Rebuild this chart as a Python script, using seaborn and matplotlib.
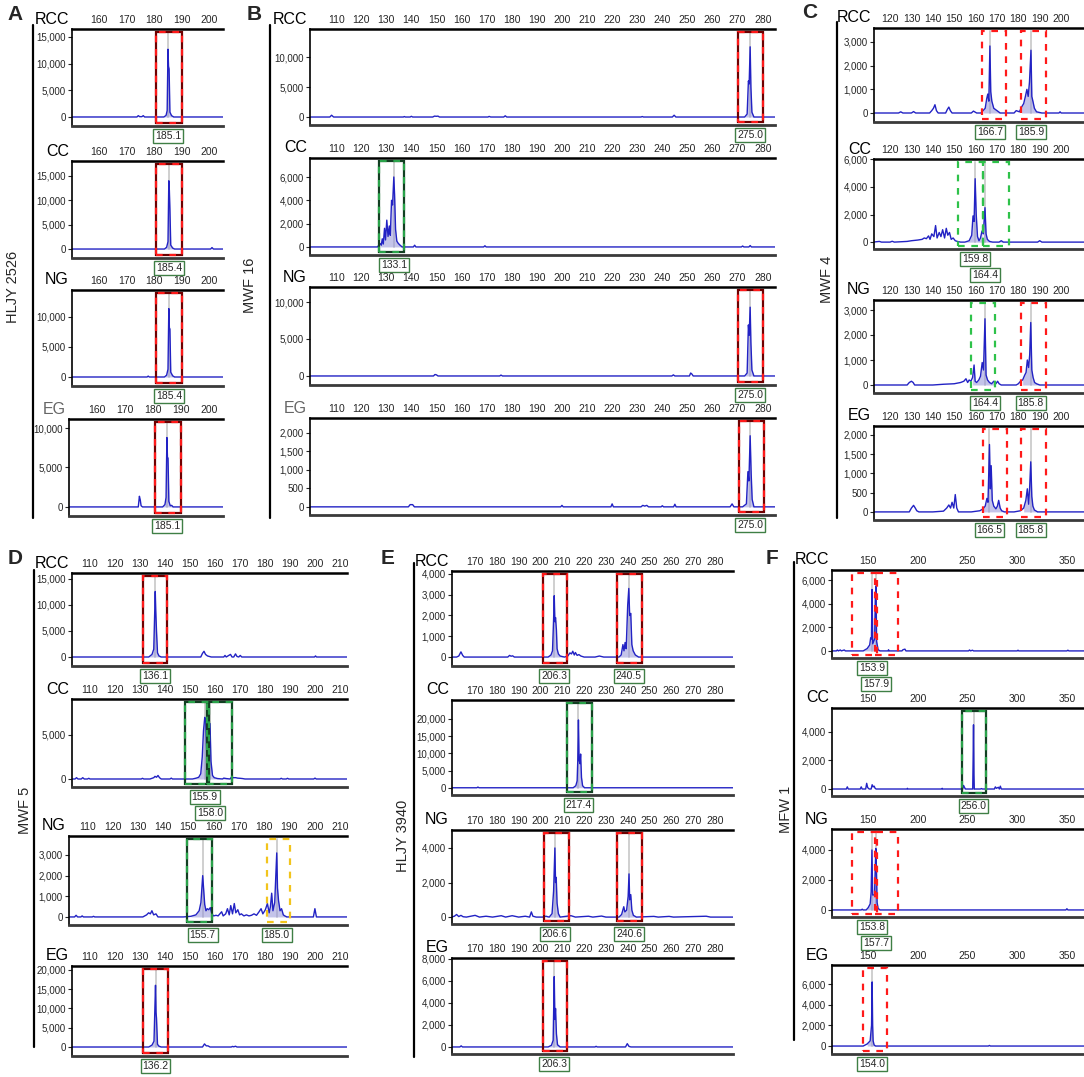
import numpy as np
import pandas as pd
import matplotlib
matplotlib.use('Agg')
import matplotlib.pyplot as plt
import seaborn as sns
from matplotlib.patches import Rectangle
from matplotlib.lines import Line2D
from matplotlib.transforms import Bbox, TransformedBbox

sns.set_style('white')
plt.rcParams['font.family'] = ['Liberation Sans', 'DejaVu Sans']

# ---- traces: (size bp, RFU) vertices ----
a_rcc = [(150, 0), (173.8, 0), (174.3, 250), (174.8, 60), (175.6, 60), (176.1, 250), (176.6, 0), (183.6, 0),
         (184.4, 300), (184.8, 1200), (185.1, 12700), (185.3, 9500), (185.5, 9000), (185.8, 900), (186.4, 250),
         (187.2, 0), (206, 0)]
a_cc = [(150, 0), (183.8, 0), (184.6, 350), (185.1, 1500), (185.4, 14000), (185.6, 12000), (185.8, 8200),
        (186.1, 800), (186.8, 200), (187.5, 0), (200.6, 0), (201.1, 300), (201.6, 0), (206, 0)]
a_ng = [(150, 0), (177.5, 0), (177.9, 150), (178.3, 0), (183.8, 0), (184.6, 300), (185.1, 1300), (185.4, 11400),
        (185.6, 8200), (185.8, 8000), (186.1, 800), (186.8, 200), (187.5, 0), (206, 0)]
a_eg = [(150, 0), (174.9, 0), (175.3, 1350), (175.6, 900), (175.9, 150), (176.4, 0), (183.6, 0), (184.4, 300),
        (184.8, 1200), (185.1, 8800), (185.3, 6300), (185.5, 6200), (185.8, 700), (186.3, 150), (186.8, 200),
        (187.3, 0), (206, 0)]

b_rcc = [(99, 0), (107.5, 0), (108.2, 300), (109, 0), (136.8, 0), (137.2, 80), (137.6, 0), (139.5, 0), (140, 120),
         (140.5, 0), (148.5, 0), (149.2, 150), (150, 120), (150.6, 150), (151.2, 0), (170.5, 0), (171, 100),
         (171.6, 0), (176.8, 0), (177.4, 200), (178, 0), (231.5, 0), (232, 80), (232.5, 0), (244, 0), (244.7, 300),
         (245.4, 0), (272.8, 0), (273.8, 500), (274.3, 6000), (274.6, 5500), (275.0, 11700), (275.3, 5000),
         (275.7, 800), (276.5, 0), (286, 0)]
b_cc = [(99, 0), (126.5, 0), (127.5, 300), (128, 150), (128.4, 700), (128.8, 250), (129.3, 1600), (129.7, 600),
        (130.2, 2300), (130.7, 900), (131.2, 1800), (131.6, 1000), (132.1, 4000), (132.5, 3600), (133.0, 6000),
        (133.3, 4500), (133.7, 1500), (134.2, 500), (134.8, 300), (135.5, 150), (136.3, 0), (140.8, 0),
        (141.3, 150), (141.8, 0), (168.8, 0), (169.3, 100), (169.8, 0), (271.5, 0), (272, 80), (272.5, 0),
        (274.5, 0), (275, 120), (275.5, 0), (286, 0)]
b_ng = [(99, 0), (148.8, 0), (149.4, 200), (150, 150), (150.6, 0), (175.2, 0), (175.7, 120), (176.3, 0),
        (243.8, 0), (244.4, 150), (245, 0), (250.8, 0), (251.3, 400), (251.8, 250), (252.3, 0), (272.8, 0),
        (273.8, 400), (274.3, 6900), (274.6, 5500), (275.0, 9300), (275.3, 4500), (275.7, 800), (276.5, 0),
        (286, 0)]
b_eg = [(99, 0), (138.8, 0), (139.5, 60), (140.5, 60), (141.2, 0), (199.5, 0), (200, 40), (200.5, 0), (219.5, 0),
        (220, 80), (220.5, 0), (231.5, 0), (232.2, 40), (233, 20), (233.8, 40), (234.5, 0), (239.5, 0), (240, 30),
        (240.5, 0), (244.5, 0), (245, 70), (245.5, 0), (267, 0), (267.8, 80), (268.5, 0), (272, 0), (273.5, 80),
        (274.1, 950), (274.5, 700), (275.0, 1920), (275.4, 900), (275.8, 200), (276.5, 0), (286, 0)]

c_rcc = [(112, 0), (124, 0), (125, 50), (126, 0), (130, 0), (131, 60), (132, 0), (138.5, 0), (139.5, 100),
         (140.3, 200), (141, 350), (141.7, 100), (142.5, 0), (146, 0), (146.8, 150), (147.5, 250), (148.2, 100),
         (149, 0), (158, 0), (159, 80), (160.5, 0), (162.5, 0), (163.5, 100), (164.5, 200), (165.2, 600),
         (165.7, 800), (166.2, 500), (166.7, 2830), (167.1, 900), (167.6, 500), (168.5, 200), (170, 100),
         (171.5, 0), (178, 0), (179, 100), (180.5, 50), (181.5, 250), (182.5, 400), (183.3, 700), (184, 1000),
         (184.6, 700), (185.2, 1300), (185.9, 2650), (186.3, 700), (186.8, 500), (187.5, 200), (188.5, 50),
         (191, 0), (199, 0), (199.5, 50), (200, 0), (211, 0)]
c_cc = [(112, 0), (115, 50), (116, 0), (120, 0), (121, 60), (122, 0), (128, 50), (130, 100), (133, 150),
        (135, 200), (136, 300), (137, 250), (138, 450), (138.7, 200), (139.5, 600), (140.5, 400), (141.3, 1200),
        (142, 300), (143, 700), (143.8, 400), (144.6, 900), (145.5, 300), (146.3, 1000), (147, 500), (147.8, 700),
        (148.6, 200), (149.5, 300), (150.5, 100), (151.5, 50), (153, 0), (155, 0), (157, 100), (158.2, 500),
        (158.8, 1900), (159.3, 1500), (159.8, 4600), (160.3, 2000), (160.9, 400), (161.6, 100), (162.3, 300),
        (163, 800), (163.6, 600), (164.4, 2500), (164.9, 600), (165.5, 200), (166.5, 50), (168, 0), (171, 0),
        (172, 100), (173, 0), (189, 0), (190, 100), (191, 0), (211, 0)]
c_ng = [(112, 0), (128, 0), (129, 100), (130, 150), (130.8, 100), (131.5, 0), (140, 0), (145, 30), (150, 50),
        (153, 100), (154.5, 150), (155.5, 250), (156.3, 100), (157, 200), (157.8, 150), (158.6, 300),
        (159.3, 800), (159.8, 150), (160.5, 100), (161.5, 200), (162.3, 350), (163.1, 900), (163.7, 600),
        (164.4, 2650), (164.9, 400), (165.6, 200), (166.5, 100), (167.5, 50), (168.5, 150), (169.5, 50),
        (170.3, 150), (171, 50), (172, 0), (179, 0), (180, 50), (181, 150), (182, 200), (183, 400), (183.6, 500),
        (184.2, 1000), (184.8, 700), (185.3, 1200), (185.8, 2500), (186.3, 600), (186.9, 300), (187.6, 100),
        (188.5, 50), (190, 0), (211, 0)]
c_eg = [(112, 0), (129, 0), (130, 100), (131, 170), (131.8, 100), (132.5, 30), (133.5, 0), (140, 0), (145, 20),
        (146.5, 100), (147.5, 180), (148.3, 100), (149, 250), (149.8, 100), (150.5, 450), (151.2, 100), (152, 0),
        (158, 0), (162, 30), (163.5, 80), (164.5, 150), (165.3, 350), (165.8, 250), (166.5, 1750), (166.9, 600),
        (167.3, 1200), (167.8, 300), (168.5, 150), (169.5, 80), (170.2, 150), (170.8, 300), (171.5, 100),
        (172.2, 30), (173.5, 0), (178, 0), (181, 30), (182.5, 100), (183.5, 300), (184.2, 600), (184.8, 200),
        (185.3, 650), (185.8, 1300), (186.3, 400), (186.8, 150), (187.5, 50), (189, 0), (211, 0)]

d_rcc = [(102, 0), (133.5, 0), (134.8, 500), (135.5, 1500), (136.1, 12600), (136.3, 9000), (136.6, 5000),
         (137, 800), (137.6, 200), (138.5, 0), (154.3, 0), (155, 700), (155.6, 1100), (156.2, 500), (157, 200),
         (158.5, 0), (163.5, 0), (164, 300), (164.5, 0), (165.5, 300), (166.2, 500), (166.8, 0), (167.5, 0),
         (168.2, 600), (168.8, 100), (169.5, 0), (170.1, 300), (170.7, 0), (199.8, 0), (200.2, 200), (200.6, 0),
         (213, 0)]
d_cc = [(102, 0), (104, 0), (104.6, 150), (105.2, 0), (106.5, 0), (107.1, 150), (107.7, 0), (109, 0), (109.5, 80),
        (110, 0), (130.5, 0), (131, 80), (131.5, 0), (134, 0), (135.5, 150), (136, 300), (136.6, 200), (137.2, 400),
        (137.8, 150), (138.5, 0), (142, 0), (142.5, 100), (143, 0), (151, 0), (152.5, 100), (153.5, 200),
        (154.3, 600), (154.9, 2500), (155.4, 5500), (155.9, 7000), (156.3, 6600), (156.8, 2000), (157.4, 1000),
        (158.0, 6300), (158.4, 2000), (159, 400), (159.7, 150), (161, 50), (163, 0), (163.5, 100), (164.5, 50),
        (166, 0), (166.6, 200), (167.2, 150), (168.3, 150), (169, 100), (170, 80), (171, 50), (172, 0), (186, 0),
        (186.5, 80), (187, 0), (188.5, 0), (189, 80), (189.5, 0), (199.5, 0), (200, 100), (200.5, 0), (213, 0)]
d_ng = [(102, 0), (105, 0), (105.6, 80), (106.2, 0), (107.5, 0), (108, 50), (108.5, 0), (112, 0), (112.5, 30),
        (113, 0), (132, 0), (133.5, 100), (134.3, 200), (135, 150), (135.6, 300), (136.3, 100), (137.2, 150),
        (138, 0), (148, 0), (151, 30), (153, 100), (154.3, 300), (155, 700), (155.7, 2000), (156.1, 1300),
        (156.5, 600), (157, 300), (157.5, 400), (158.1, 350), (158.7, 450), (159.3, 150), (160, 50), (161, 80),
        (161.8, 50), (162.5, 150), (163.2, 250), (163.8, 50), (164.8, 150), (165.5, 400), (166.2, 100),
        (166.8, 550), (167.5, 150), (168.2, 650), (168.8, 200), (169.6, 350), (170.3, 100), (171, 150), (172, 50),
        (173, 100), (174, 50), (175, 80), (176, 150), (177, 80), (178, 250), (178.8, 400), (179.5, 150),
        (180.5, 350), (181.3, 650), (182, 200), (182.5, 500), (183, 1150), (183.5, 300), (184.2, 700),
        (185.0, 3100), (185.3, 1400), (185.7, 800), (186.3, 300), (186.9, 400), (187.6, 100), (188.2, 50),
        (189, 0), (199.5, 0), (200.1, 400), (200.7, 0), (213, 0)]
d_eg = [(102, 0), (133.5, 0), (134.8, 500), (135.6, 1500), (136.2, 16000), (136.4, 9000), (136.6, 7500), (137, 700),
        (137.6, 200), (138.5, 0), (155, 0), (155.8, 800), (156.5, 300), (157.2, 300), (158, 0), (166.5, 0),
        (167, 150), (167.5, 50), (168.2, 200), (168.8, 0), (213, 0)]

e_rcc = [(159, 0), (161.5, 0), (162.5, 50), (163.5, 250), (164.3, 80), (165, 0), (185, 0), (185.8, 80),
         (186.5, 40), (187.2, 60), (188, 0), (203.5, 0), (204.8, 100), (205.5, 300), (206.0, 1800), (206.3, 2950),
         (206.6, 1700), (206.9, 1900), (207.3, 1300), (207.6, 400), (208.2, 150), (209, 50), (211, 0),
         (212.5, 50), (213.5, 200), (214.2, 150), (214.8, 280), (215.5, 100), (216, 220), (216.8, 80),
         (217.6, 120), (218.5, 50), (220, 0), (225, 0), (227, 50), (229, 0), (236, 0), (237, 100), (237.8, 600),
         (238.3, 300), (238.8, 700), (239.3, 400), (240.0, 2500), (240.5, 3300), (240.9, 2000), (241.4, 2100),
         (241.9, 600), (242.5, 300), (243.5, 100), (245, 0), (289, 0)]
e_cc = [(159, 0), (170.8, 0), (171.3, 200), (171.8, 0), (215, 0), (216.2, 600), (216.8, 2000), (217.1, 8000),
        (217.4, 19700), (217.7, 8000), (218.1, 7000), (218.4, 9800), (218.8, 3000), (219.3, 600), (220.2, 0),
        (289, 0)]
e_ng = [(159, 0), (160.5, 50), (161.5, 150), (162.5, 30), (163.5, 100), (164.5, 20), (166, 0), (170, 100),
        (172, 0), (175, 50), (178, 0), (182, 80), (184, 0), (187, 80), (190, 0), (193, 50), (195, 0),
        (195.8, 300), (196.5, 50), (198, 0), (201, 0), (202.5, 50), (204, 0), (205.3, 200), (206.0, 1500),
        (206.6, 4000), (206.9, 2000), (207.2, 2300), (207.6, 800), (208.2, 200), (209, 0), (212, 50), (214, 80),
        (216, 0), (222, 50), (224, 0), (228, 60), (230, 0), (236, 0), (237.2, 150), (238.2, 600), (238.7, 300),
        (239.5, 400), (240.2, 1200), (240.6, 2500), (240.9, 1000), (241.4, 1300), (241.9, 400), (242.6, 100),
        (244, 0), (252, 40), (254, 0), (259, 40), (261, 0), (276, 50), (278, 0), (289, 0)]
e_eg = [(159, 0), (163, 0), (163.6, 100), (164.2, 0), (203.5, 0), (205, 150), (205.8, 600), (206.3, 6400),
        (206.6, 2500), (206.9, 3500), (207.3, 1200), (207.8, 200), (209, 0), (225, 0), (225.5, 60), (226, 0),
        (239, 0), (239.8, 300), (240.6, 50), (241.5, 0), (289, 0)]

f_rcc = [(113, 0), (118, 0), (119, 80), (120, 0), (122, 80), (123, 0), (126, 80), (127, 0), (145, 0), (149, 200),
         (151.5, 500), (152.5, 1100), (153.3, 1000), (153.9, 5200), (154.6, 600), (156.5, 1000), (157.2, 4500),
         (157.9, 5500), (158.5, 800), (160, 100), (162, 0), (170, 0), (170.5, 100), (171, 0), (184, 0),
         (185, 100), (187, 150), (188, 0), (251, 0), (252, 80), (253, 0), (255, 60), (256, 0), (300, 0),
         (300.8, 60), (301.5, 0), (350, 0), (351, 60), (352, 0), (369, 0)]
f_cc = [(113, 0), (128, 0), (129, 150), (130, 0), (142, 0), (143, 150), (144, 0), (147.5, 0), (148.5, 400),
        (149.5, 100), (151, 0), (153, 0), (154, 300), (155, 150), (156, 200), (157, 50), (158, 0), (189, 0),
        (189.5, 50), (190, 0), (224, 0), (224.5, 50), (225, 0), (245, 0), (246, 250), (247, 100), (248, 0),
        (255.2, 0), (255.6, 2000), (256.0, 4500), (256.4, 1000), (256.8, 0), (263, 0), (264, 30), (265, 0),
        (277, 0), (278, 150), (279, 50), (281, 120), (282, 0), (283, 200), (284, 0), (369, 0)]
f_ng = [(113, 0), (143, 0), (144, 50), (145, 0), (148, 0), (150, 150), (152, 400), (153, 1200), (153.8, 4000),
        (154.5, 1000), (156.4, 1000), (157.0, 2500), (157.7, 4100), (158.3, 2800), (159, 500), (160, 100),
        (162, 0), (349, 0), (350, 80), (351, 0), (369, 0)]
f_eg = [(113, 0), (145, 0), (149, 200), (152, 500), (153.4, 2000), (154.0, 6200), (154.5, 2000), (155, 500),
        (156, 100), (157.5, 0), (271, 0), (272, 60), (273, 0), (369, 0)]

# ---- allele calls and bins ----
a_calls = [[185.1], [185.4], [185.4], [185.1]]
b_calls = [[275.0], [133.1], [275.0], [275.0]]
c_calls = [[166.7, 185.9], [159.8, 164.4], [164.4, 185.8], [166.5, 185.8]]
d_calls = [[136.1], [155.9, 158.0], [155.7, 185.0], [136.2]]
e_calls = [[206.3, 240.5], [217.4], [206.6, 240.6], [206.3]]
f_calls = [[153.9, 157.9], [256.0], [153.8, 157.7], [154.0]]

a_bins = [[(180.7, 190.2, 'redd')]] * 4
b_bins = [[(270.0, 280.1, 'redd')], [(127.1, 137.1, 'greend')], [(270.1, 280.2, 'redd')], [(270.4, 280.5, 'redd')]]
c_bins = [[(163.0, 174.2, 'red'), (181.2, 192.9, 'red')],
          [(151.8, 163.5, 'green'), (163.5, 175.6, 'green')],
          [(157.9, 169.0, 'green'), (181.2, 192.9, 'red')],
          [(163.5, 174.7, 'red'), (181.2, 192.9, 'red')]]
d_bins = [[(131.2, 140.8, 'redd')], [(148.0, 157.6, 'greend'), (156.8, 166.8, 'greend')],
          [(149.6, 159.2, 'greend'), (181.2, 190.4, 'yellow')], [(131.2, 141.2, 'redd')]]
e_bins = [[(201.2, 212.2, 'redd'), (235.1, 246.5, 'redd')], [(212.2, 223.7, 'greend')],
          [(201.7, 213.1, 'redd'), (235.1, 246.5, 'redd')], [(201.2, 212.2, 'redd')]]
f_bins = [[(134.0, 159.0, 'red'), (157.0, 180.0, 'red')], [(244.6, 268.9, 'greend')],
          [(133.5, 158.8, 'red'), (156.4, 179.6, 'red')], [(145.2, 168.9, 'red')]]

samples = ['RCC', 'CC', 'NG', 'EG']

W, H = 1084, 1077
fig = plt.figure(figsize=(W / 100, H / 100), dpi=100)

box_cols = {'red': ('#ff1a1a', None), 'redd': ('#ff1a1a', '#6e0000'),
            'green': ('#2ec24a', None), 'greend': ('#2aa34a', '#123f22'),
            'yellow': ('#f2c41c', None)}

panels = [
    dict(letter='A', lxy=(15, 15), group='HLJY 2526', gxy=(13, 287), line=(33, 25, 518),
         xlim=(150.2, 205.1), xticks=range(160, 201, 10), right=223,
         rects=[(72, 29, 126), (72, 161, 258), (72, 290, 386), (69, 419, 516)],
         ylims=[(-1690, 16500), (-1840, 18060), (-1500, 14500), (-1150, 11150)],
         yticks=[range(0, 15001, 5000), range(0, 15001, 5000), range(0, 10001, 5000), range(0, 10001, 5000)],
         traces=[a_rcc, a_cc, a_ng, a_eg], calls=a_calls, bins=a_bins, eg_gray=True),
    dict(letter='B', lxy=(254, 14), group='MWF 16', gxy=(250, 285), line=(270, 25, 518),
         xlim=(99.6, 284.9), xticks=range(110, 281, 10), right=775,
         rects=[(310, 29, 125), (310, 158, 255), (310, 287, 385), (310, 418, 515)],
         ylims=[(-1330, 14670), (-690, 7630), (-1220, 12030), (-220, 2400)],
         yticks=[range(0, 10001, 5000), range(0, 6001, 2000), range(0, 10001, 5000), range(0, 2001, 500)],
         traces=[b_rcc, b_cc, b_ng, b_eg], calls=b_calls, bins=b_bins, eg_gray=True),
    dict(letter='C', lxy=(810, 13), group='MWF 4', gxy=(827, 279), line=(837, 22, 518),
         xlim=(112.5, 210.7), xticks=range(120, 201, 10), right=1084,
         rects=[(874, 28, 122), (874, 159, 249), (874, 300, 393), (874, 426, 520)],
         ylims=[(-380, 3590), (-500, 6030), (-320, 3400), (-210, 2230)],
         yticks=[range(0, 3001, 1000), range(0, 6001, 2000), range(0, 3001, 1000), range(0, 2001, 500)],
         traces=[c_rcc, c_cc, c_ng, c_eg], calls=c_calls, bins=c_bins, eg_gray=False),
    dict(letter='D', lxy=(15, 558), group='MWF 5', gxy=(25, 810), line=(34, 570, 1047),
         xlim=(102.8, 212.8), xticks=range(110, 211, 10), right=347,
         rects=[(72, 573, 666), (72, 699, 787), (69, 836, 925), (72, 966, 1056)],
         ylims=[(-1730, 16150), (-909, 9090), (-390, 3920), (-2330, 21000)],
         yticks=[range(0, 15001, 5000), range(0, 5001, 5000), range(0, 3001, 1000), range(0, 20001, 5000)],
         traces=[d_rcc, d_cc, d_ng, d_eg], calls=d_calls, bins=d_bins, eg_gray=False),
    dict(letter='E', lxy=(388, 558), group='HLJY 3940', gxy=(403, 836), line=(414, 563, 1057),
         xlim=(159.4, 288.3), xticks=range(170, 281, 10), right=733,
         rects=[(452, 571, 666), (452, 700, 795), (452, 830, 924), (452, 958, 1054)],
         ylims=[(-430, 4140), (-2100, 25500), (-400, 5040), (-640, 8090)],
         yticks=[range(0, 4001, 1000), range(0, 20001, 5000), range(0, 4001, 2000), range(0, 8001, 2000)],
         traces=[e_rcc, e_cc, e_ng, e_eg], calls=e_calls, bins=e_bins, eg_gray=False),
    dict(letter='F', lxy=(772, 558), group='MFW 1', gxy=(786, 809), line=(794, 562, 1040),
         xlim=(113.6, 367.2), xticks=range(150, 351, 50), right=1084,
         rects=[(832, 570, 658), (832, 708, 796), (832, 829, 917), (832, 965, 1054)],
         ylims=[(-600, 6850), (-490, 5680), (-470, 5400), (-770, 7840)],
         yticks=[range(0, 6001, 2000), range(0, 4001, 2000), range(0, 4001, 2000), range(0, 6001, 2000)],
         traces=[f_rcc, f_cc, f_ng, f_eg], calls=f_calls, bins=f_bins, eg_gray=False),
]

for p in panels:
    fig.text(p['lxy'][0] / W, 1 - p['lxy'][1] / H, p['letter'], fontsize=15, fontweight='bold',
             ha='center', va='center')
    lx, ly0, ly1 = p['line']
    fig.add_artist(Line2D([lx / W, lx / W], [1 - ly0 / H, 1 - ly1 / H], color='black', lw=1.6))
    fig.text(p['gxy'][0] / W, 1 - p['gxy'][1] / H, p['group'], rotation=90, fontsize=10.5,
             ha='center', va='center')

    for i, name in enumerate(samples):
        left, top, bottom = p['rects'][i]
        right = p['right']
        ax = fig.add_axes([left / W, 1 - bottom / H, (right - left) / W, (bottom - top) / H])
        df = pd.DataFrame(p['traces'][i], columns=['size', 'rfu'])
        y0, y1 = p['ylims'][i]
        base = (0 - y0) / (y1 - y0)

        # bins: peak marker, shading and dashed box
        for lo, hi, st in p['bins'][i]:
            sub = df[(df['size'] >= lo) & (df['size'] <= hi)]
            ax.fill_between(sub['size'], 0, sub['rfu'], color='#9494d8', alpha=0.55, lw=0, zorder=1.5)
        for c in p['calls'][i]:
            ax.axvline(c, ymin=base, ymax=0.965, color='#cfcfcf', lw=1.4, zorder=1)

        sns.lineplot(data=df, x='size', y='rfu', ax=ax, color='#2222c4', lw=1.0, sort=False,
                     estimator=None, zorder=2)

        for lo, hi, st in p['bins'][i]:
            col, gap = box_cols[st]
            if gap is not None:
                ax.add_patch(Rectangle((lo, 0.035), hi - lo, 0.93, transform=ax.get_xaxis_transform(),
                                       fill=False, ec=gap, lw=1.6, zorder=3))
            ax.add_patch(Rectangle((lo, 0.035), hi - lo, 0.93, transform=ax.get_xaxis_transform(),
                                   fill=False, ec=col, lw=1.6, ls=(0, (3, 3)), zorder=3.1))

        ax.set_xlim(*p['xlim'])
        ax.set_ylim(y0, y1)
        ax.set_xlabel('')
        ax.set_ylabel('')

        # allele size labels under the axis, stacked when they collide
        px_per_unit = (right - left) / (p['xlim'][1] - p['xlim'][0])
        level, prev = 0, None
        for c in p['calls'][i]:
            if prev is not None and (c - prev) * px_per_unit < 30:
                level += 1
            else:
                level = 0
            prev = c
            ax.annotate(f'{c:.1f}', xy=(c, 0), xycoords=ax.get_xaxis_transform(),
                        xytext=(0, -(10 + 16 * level)), textcoords='offset pixels',
                        ha='center', va='center', fontsize=7.5, annotation_clip=False,
                        bbox=dict(boxstyle='square,pad=0.18', fc='white', ec='#3f7f45', lw=1.0))

        xt = list(p['xticks'])
        ax.xaxis.tick_top()
        ax.set_xticks(xt)
        ax.set_xticklabels([str(v) for v in xt])
        ax.tick_params(axis='x', length=0, pad=3, labelsize=7.5)
        yt = list(p['yticks'][i])
        ax.set_yticks(yt)
        ax.set_yticklabels([f'{v:,}' for v in yt])
        ax.tick_params(axis='y', length=3, width=0.8, pad=1.5, labelsize=7, direction='out', left=True)

        clip = TransformedBbox(Bbox([[0, 0], [(right + 1) / W, 1]]), fig.transFigure)
        for lab in ax.get_xticklabels():
            lab.set_clip_box(clip)
            lab.set_clip_on(True)

        ax.spines['right'].set_visible(False)
        ax.spines['top'].set_color('black')
        ax.spines['top'].set_linewidth(1.8)
        ax.spines['left'].set_color('black')
        ax.spines['left'].set_linewidth(1.2)
        ax.spines['bottom'].set_color('#3a3a3a')
        ax.spines['bottom'].set_linewidth(2.0)

        tcol = '#666666' if (name == 'EG' and p['eg_gray']) else 'black'
        fig.text((left - 3) / W, 1 - (top - 10) / H, name, fontsize=11.5, color=tcol, ha='right', va='center')

fig.savefig('out.png', dpi=100)
